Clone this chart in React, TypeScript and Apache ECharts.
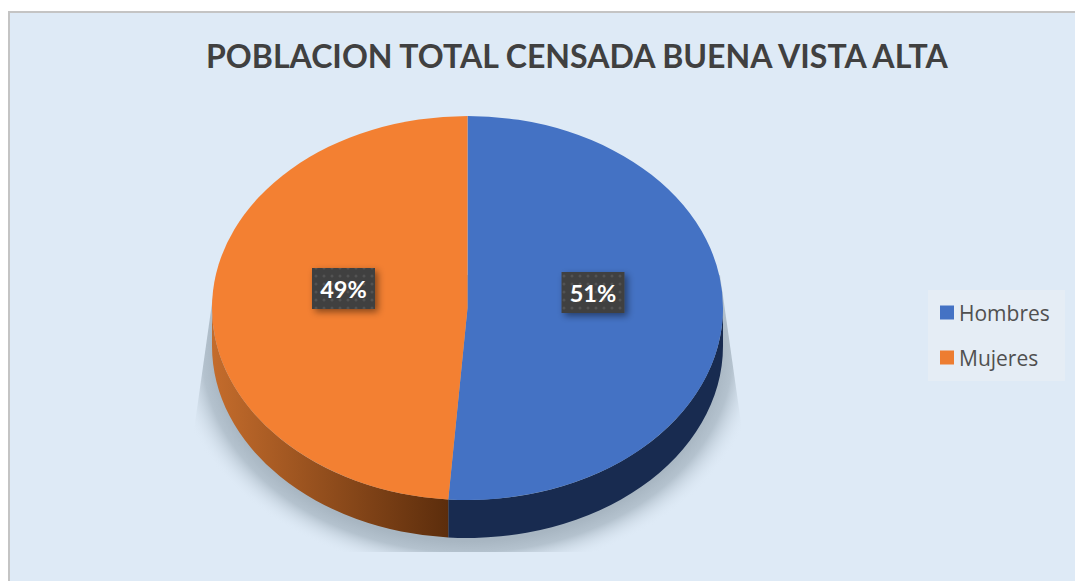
import React, { useEffect, useRef } from "react";
import * as echarts from "echarts";

const titleText = "POBLACION TOTAL CENSADA BUENA VISTA ALTA";
const categories = ["Hombres", "Mujeres"];
const values = [51.2, 48.8];
const legendColors = ["#4472c4", "#ed7d31"];
const topColors = ["#4472c4", "#f38032"];

const W = 1075;
const H = 581;
const CX = 467.5;
const CY = 308;
const RX = 255.5;
const RY = 192;
const DEPTH = 38;
const total = values.reduce((a, b) => a + b, 0);
const labelOffsets = [
  [125.5, -15.5],
  [-124, -19.5],
];
const dotTile =
  "data:image/svg+xml;utf8," +
  encodeURIComponent(
    '<svg xmlns="http://www.w3.org/2000/svg" width="8" height="8"><rect width="8" height="8" fill="#3f3f3f"/><circle cx="4" cy="4" r="1.5" fill="#525252"/></svg>'
  );

const pt = (t: number, dy = 0) => [CX + RX * Math.sin(t), CY + dy - RY * Math.cos(t)];
const sliceRange = (i: number) => {
  const before = values.slice(0, i).reduce((a, b) => a + b, 0);
  return [(before / total) * 2 * Math.PI, ((before + values[i]) / total) * 2 * Math.PI];
};

const sliceRenderer = (i: number) => (_params: any, api: any) => {
  const share = (api.value(0) / total) * 100;
  const [t0, t1] = sliceRange(i);
  const a = pt(t0);
  const b = pt(t1);
  const large = t1 - t0 > Math.PI ? 1 : 0;
  const w0 = Math.max(t0, Math.PI / 2);
  const w1 = Math.min(t1, (3 * Math.PI) / 2);
  const p0 = pt(w0);
  const p1 = pt(w1);
  const q0 = pt(w0, DEPTH);
  const q1 = pt(w1, DEPTH);
  const wallFill =
    i === 0
      ? "#182b50"
      : new echarts.graphic.LinearGradient(0, 0, 1, 0, [
          { offset: 0, color: "#c46c2c" },
          { offset: 1, color: "#5c2d0c" },
        ]);
  const [ox, oy] = labelOffsets[i];
  const lx = CX + ox;
  const ly = CY + oy;
  return {
    type: "group",
    children: [
      {
        type: "path",
        shape: {
          pathData: `M${q0[0]} ${q0[1]}A${RX} ${RY} 0 0 1 ${q1[0]} ${q1[1]}L${p1[0]} ${p1[1]}A${RX} ${RY} 0 0 0 ${p0[0]} ${p0[1]}Z`,
        },
        style: { fill: wallFill },
      },
      {
        type: "path",
        shape: {
          pathData: `M${CX} ${CY}L${a[0]} ${a[1]}A${RX} ${RY} 0 ${large} 1 ${b[0]} ${b[1]}Z`,
        },
        style: { fill: topColors[i] },
      },
      {
        type: "rect",
        z2: 10,
        shape: { x: lx - 31.5, y: ly - 20.5, width: 63, height: 41 },
        style: {
          fill: { image: dotTile, repeat: "repeat", imageWidth: 8, imageHeight: 8 } as any,
          shadowBlur: 7,
          shadowOffsetX: 3,
          shadowOffsetY: 3,
          shadowColor: "rgba(0,0,0,0.45)",
        },
      },
      {
        type: "text",
        z2: 11,
        x: lx,
        y: ly,
        style: {
          text: `${Math.round(share)}%`,
          fill: "#ffffff",
          font: "bold 23.5px Lato",
          align: "center",
          verticalAlign: "middle",
        },
      },
    ],
  };
};

const shadowRenderer = () => ({
  type: "ellipse",
  shape: { cx: CX, cy: 350, rx: 295, ry: 225 },
  clipPath: {
    type: "polygon",
    shape: {
      points: [
        [216, 275],
        [194, 430],
        [194, 552],
        [742, 552],
        [742, 430],
        [720, 275],
      ],
    },
  },
  style: {
    fill: new echarts.graphic.RadialGradient(0.5, 0.5, 0.5, [
      { offset: 0, color: "#a8b6c2" },
      { offset: 0.85, color: "#a8b6c2" },
      { offset: 0.9, color: "#b4c2ce" },
      { offset: 1, color: "rgba(222,234,246,0)" },
    ]),
  },
});

export default function App() {
  const ref = useRef<HTMLDivElement>(null);
  useEffect(() => {
    if (!ref.current) return;
    const chart = echarts.init(ref.current, undefined, { renderer: "svg" });
    chart.setOption({
      animation: false,
      backgroundColor: "#ffffff",
      title: {
        text: titleText,
        left: 201,
        top: 34,
        textStyle: { fontFamily: "Lato", fontWeight: "bold", fontSize: 32.1, color: "#404040" },
      },
      legend: {
        orient: "vertical",
        left: 935,
        top: 297,
        itemWidth: 14,
        itemHeight: 14,
        itemGap: 24,
        data: categories,
        icon: "rect",
        textStyle: { fontFamily: "Open Sans", fontSize: 21, color: "#505050", padding: [0, 0, 0, 0] },
      },
      graphic: [
        { type: "rect", shape: { x: 8, y: 11, width: W - 8, height: H - 11 }, style: { fill: "#c4c4c4" } },
        { type: "rect", shape: { x: 10, y: 13, width: W - 10, height: H - 13 }, style: { fill: "#deeaf6" } },
        { type: "rect", shape: { x: 928, y: 290, width: 137, height: 91 }, style: { fill: "#e5edf5" } },
      ],
      series: [
        { type: "custom", name: "sombra", coordinateSystem: "none", silent: true, data: [[0]], renderItem: shadowRenderer },
        ...categories.map((name, i) => ({
          type: "custom",
          name,
          coordinateSystem: "none",
          itemStyle: { color: legendColors[i] },
          data: [[values[i]]],
          renderItem: sliceRenderer(i),
        })),
      ],
    });
    return () => chart.dispose();
  }, []);
  return <div ref={ref} style={{ position: "fixed", left: 0, top: 0, width: W, height: H }} />;
}
